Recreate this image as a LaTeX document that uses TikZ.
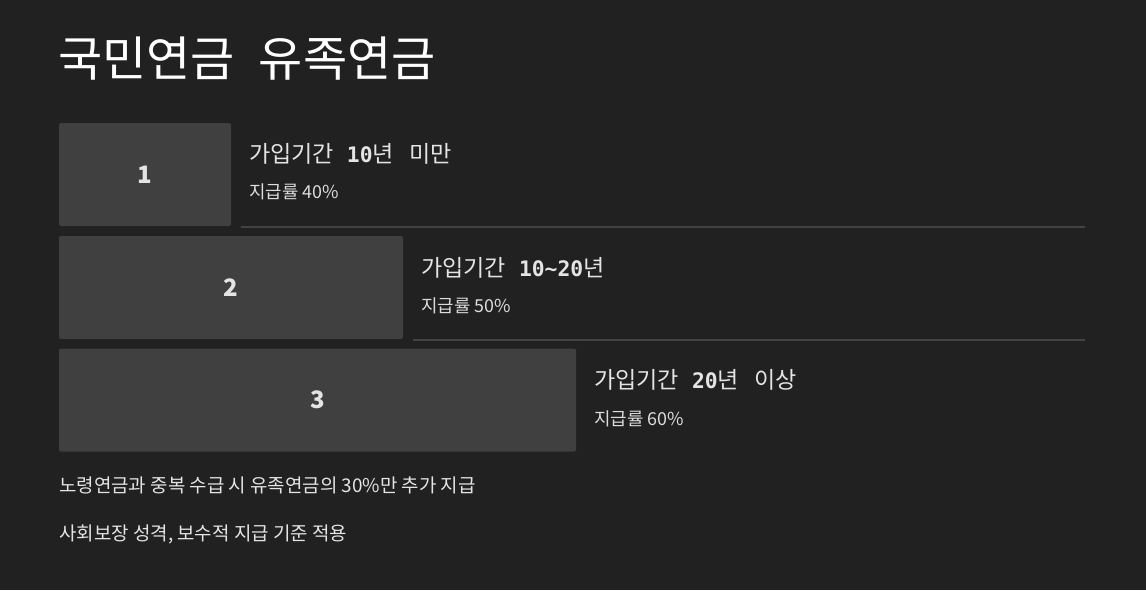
\documentclass[tikz,border=0pt]{standalone}
\usepackage{fontspec}
\setmainfont{Noto Sans CJK KR}
\newfontfamily\kr{Noto Sans CJK KR}
\newfontfamily\monof{DejaVu Sans Mono}
\definecolor{bgc}{HTML}{212121}
\definecolor{barc}{HTML}{404040}
\definecolor{sepc}{HTML}{434343}
\definecolor{txt}{HTML}{E4E4E4}
\definecolor{subc}{HTML}{DCDCDC}
\tikzset{
  bar/.style={fill=barc, rounded corners=1.5pt, inner sep=0pt, minimum height=77.25pt,
    text=txt, font=\kr\bfseries\fontsize{18}{20}\selectfont},
  sepline/.style={draw=sepc, line width=1.5pt},
  head/.style={anchor=west, inner sep=0pt, text=txt, font=\kr\fontsize{17.3}{20}\selectfont},
  subl/.style={anchor=west, inner sep=0pt, text=subc, font=\kr\fontsize{13.4}{15}\selectfont},
  foot/.style={anchor=west, inner sep=0pt, text=txt, font=\kr\fontsize{14.2}{16}\selectfont},
  ttl/.style={anchor=west, inner sep=0pt, text=white, font=\kr\fontsize{36}{40}\selectfont}
}
\newcommand{\md}[1]{{\monof\bfseries\fontsize{16}{18}\selectfont #1}}
\begin{document}
\begin{tikzpicture}[x=0.75pt,y=-0.75pt]
\fill[bgc] (0,0) rectangle (1146,590);
\useasboundingbox (0,0) rectangle (1146,590);
\node[ttl] (title) at (58,59) {국민연금\hspace{0.5em}유족연금};
\node[bar, minimum width=129pt] (b1) at (145,174.5) {1};
\node[bar, minimum width=258pt] (b2) at (231,287.5) {2};
\node[bar, minimum width=387.75pt] (b3) at (317.5,400) {3};
\coordinate (l1s) at (241,227); \coordinate (l1e) at (1085,227);
\coordinate (l2s) at (413,340); \coordinate (l2e) at (1085,340);
\draw[sepline] (l1s) -- (l1e);
\draw[sepline] (l2s) -- (l2e);
\node[head] (h1) at (249,154) {가입기간\md{ 10}년\md{ }\hspace{2pt}미만};
\node[subl] (s1) at (249,192) {지급률 40\%};
\node[head] (h2) at (421,268) {가입기간\md{ 10\textasciitilde 20}년};
\node[subl] (s2) at (421,306) {지급률 50\%};
\node[head] (h3) at (594,380) {가입기간\md{ 20}년\md{ }\hspace{2pt}이상};
\node[subl] (s3) at (594,419) {지급률 60\%};
\node[foot] (f1) at (59,485.5) {노령연금과 중복 수급 시 유족연금의 30\%만 추가 지급};
\node[foot] (f2) at (59,534) {사회보장 성격, 보수적 지급 기준 적용};
\end{tikzpicture}
\end{document}
